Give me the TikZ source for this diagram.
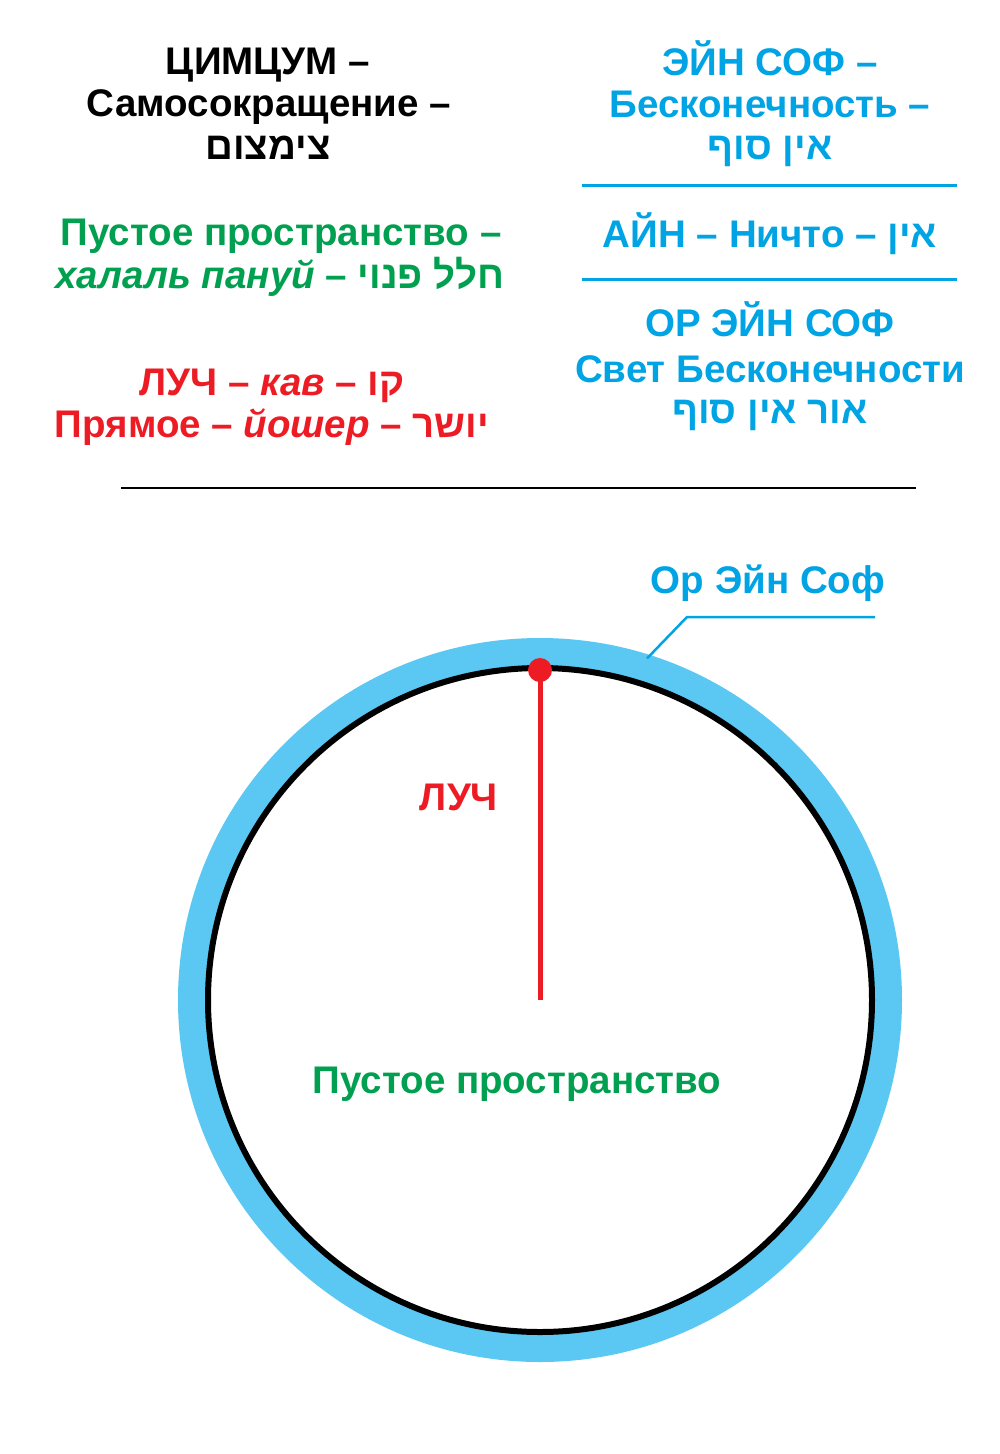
\documentclass[tikz,border=0pt]{standalone}
\usepackage{fontspec}
\setmainfont{Liberation Sans}
\newfontfamily\heb[Script=Hebrew]{Liberation Sans}
\TeXXeTstate=1
\definecolor{cyantxt}{RGB}{0,164,228}
\definecolor{ringblue}{RGB}{90,200,242}
\definecolor{grn}{RGB}{0,160,80}
\definecolor{rd}{RGB}{237,28,36}
\newcommand{\hb}[1]{{\heb\beginR #1\endR}}
\begin{document}
\begin{tikzpicture}[x=1pt,y=-1pt,
  txt/.style={font=\bfseries\fontsize{38.5}{44}\selectfont, anchor=base, inner sep=0pt},
  sep/.style={draw=cyantxt, line width=3pt},
  leader/.style={draw=cyantxt, line width=2.5pt}]
\useasboundingbox[fill=white] (0,0) rectangle (1000,1454);
% left column
\node[txt] (t1) at (268,74) {ЦИМЦУМ –};
\node[txt] (t2) at (269,116) {Самосокращение –};
\node[txt] (t3) at (268,159) {\hb{צימצום}};
\node[txt,text=grn] (g1) at (281,245) {Пустое пространство –};
\node[txt,text=grn] (g2) at (280,288) {\textit{халаль пануй} – \hb{חלל פנוי}};
\node[txt,text=rd] (r1) at (272,395) {ЛУЧ – \textit{кав} – \hb{קו}};
\node[txt,text=rd] (r2) at (272,437) {Прямое – \textit{йошер} – \hb{יושר}};
% right column
\node[txt,text=cyantxt] (e1) at (770,75) {ЭЙН СОФ –};
\node[txt,text=cyantxt] (e2) at (770,117) {Бесконечность –};
\node[txt,text=cyantxt] (e3) at (770,159) {\hb{אין סוף}};
\coordinate (s1a) at (582,185); \coordinate (s1b) at (957,185);
\draw[sep] (s1a) -- (s1b);
\node[txt,text=cyantxt] (a1) at (770,247) {АЙН – Ничто – \hb{אין}};
\coordinate (s2a) at (582,279); \coordinate (s2b) at (957,279);
\draw[sep] (s2a) -- (s2b);
\node[txt,text=cyantxt] (o1) at (770,336) {ОР ЭЙН СОФ};
\node[txt,text=cyantxt] (o2) at (770,382) {Свет Бесконечности};
\node[txt,text=cyantxt] (o3) at (770,423) {\hb{אור אין סוף}};
% divider
\coordinate (dL) at (121,488); \coordinate (dR) at (916,488);
\draw[line width=1.5pt] (dL) -- (dR);
% circle
\coordinate (c) at (540,1000);
\draw[ringblue, line width=28pt] (c) circle[radius=348];
\draw[black, line width=6pt] (c) circle[radius=332];
\coordinate (top) at (540,670);
\draw[rd, line width=5pt] (top) -- (c);
\fill[rd] (top) circle[radius=12];
% labels
\node[txt,text=cyantxt] (ors) at (768,593) {Ор Эйн Соф};
\coordinate (rp) at ([shift={(-72.6:358)}]c);
\coordinate (bend) at (687,617);
\coordinate (lend) at (875,617);
\draw[leader] (rp) -- (bend) -- (lend);
\node[txt,text=rd] (luch) at (459,810) {ЛУЧ};
\node[txt,text=grn] (pp) at (517,1093) {Пустое пространство};
\end{tikzpicture}
\end{document}
